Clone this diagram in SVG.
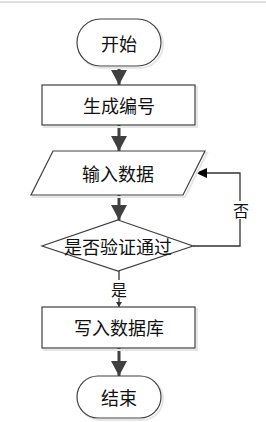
<svg xmlns="http://www.w3.org/2000/svg" width="266" height="422" viewBox="0 0 266 422">
<style>
.sh{fill:none;stroke:#e6e6e6;stroke-width:2}
.nd{fill:#ffffff;stroke:#404040;stroke-width:1.2}
.tx{font-family:"Noto Sans CJK SC","Liberation Serif",serif;font-size:18px;fill:#111;text-anchor:middle;dominant-baseline:central}
.lb{font-family:"Noto Sans CJK SC","Liberation Serif",serif;font-size:16px;fill:#111;text-anchor:middle;dominant-baseline:central}
.main{stroke:#404040;stroke-width:3;fill:none}
.thin{stroke:#333;stroke-width:1.3;fill:none}
</style>
<defs>
<marker id="big" markerUnits="userSpaceOnUse" markerWidth="16" markerHeight="16" viewBox="0 0 16 16" refX="15" refY="8" orient="auto">
<path d="M0,0 L15,8 L0,16 Z" fill="#404040"/>
</marker>
<marker id="blk" markerUnits="userSpaceOnUse" markerWidth="12" markerHeight="12" viewBox="0 0 12 12" refX="11" refY="6" orient="auto">
<path d="M0,1 L11,6 L0,11 Z" fill="#000"/>
</marker>
<marker id="sm" markerUnits="userSpaceOnUse" markerWidth="6" markerHeight="6" viewBox="0 0 6 6" refX="5" refY="3" orient="auto">
<path d="M0,0 L5,3 L0,6 Z" fill="#333"/>
</marker>
</defs>
<line x1="0" y1="2" x2="266" y2="2" stroke="#d4d4d4" stroke-width="1.5"/>
<g id="connectors">
<line class="main" x1="119" y1="67" x2="119" y2="85" marker-end="url(#big)"/>
<line class="main" x1="119" y1="125" x2="119" y2="151" marker-end="url(#big)"/>
<line class="main" x1="119" y1="195" x2="119" y2="220" marker-end="url(#big)"/>
<line class="main" x1="119" y1="348" x2="119" y2="376" marker-end="url(#big)"/>
<polyline class="thin" points="193,246 240,246 240,173 196,173" marker-end="url(#blk)"/>
<line class="thin" x1="119" y1="271" x2="119" y2="307" marker-end="url(#sm)"/>
<rect x="232" y="201" width="17" height="18" fill="#fff"/>
<text class="lb" x="241" y="210">否</text>
<rect x="110" y="280" width="18" height="18" fill="#fff"/>
<text class="lb" x="119" y="289">是</text>
</g>
<g id="start">
<rect class="sh" x="79" y="21" width="84" height="47" rx="23.5"/>
<rect class="nd" x="77" y="19" width="84" height="47" rx="23.5"/>
<text class="tx" x="119" y="43">开始</text>
</g>
<g id="gen">
<rect class="sh" x="44" y="87" width="153" height="40"/>
<rect class="nd" x="42" y="85" width="153" height="40"/>
<text class="tx" x="119" y="105">生成编号</text>
</g>
<g id="input">
<polygon class="sh" points="55,153 207,153 185,197 33,197"/>
<polygon class="nd" points="53,151 205,151 183,195 31,195"/>
<text class="tx" x="118" y="173">输入数据</text>
</g>
<g id="check">
<polygon class="nd" points="118,220 193,246 118,271 42,246"/>
<text class="tx" x="118" y="246">是否验证通过</text>
</g>
<g id="write">
<rect class="sh" x="44" y="309" width="153" height="41"/>
<rect class="nd" x="42" y="307" width="153" height="41"/>
<text class="tx" x="119" y="327">写入数据库</text>
</g>
<g id="end">
<rect class="sh" x="79" y="378" width="84" height="42" rx="21"/>
<rect class="nd" x="77" y="376" width="84" height="42" rx="21"/>
<text class="tx" x="119" y="397">结束</text>
</g>
</svg>
